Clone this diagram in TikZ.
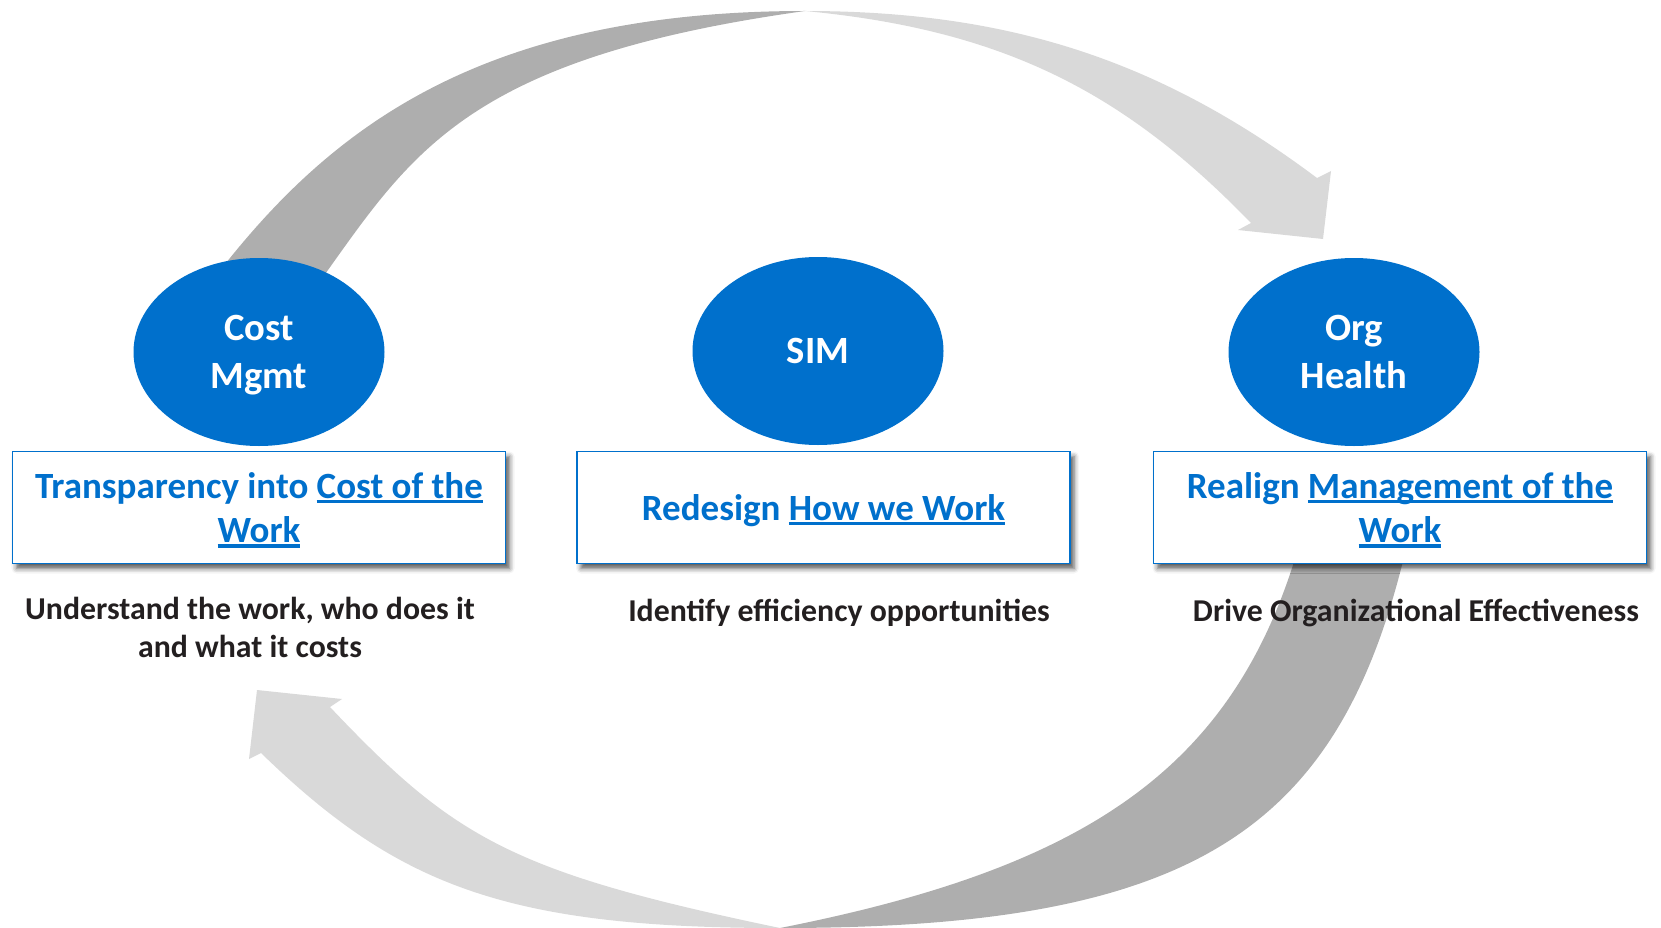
\documentclass[tikz,border=0pt]{standalone}
\usepackage{fontspec}
\setmainfont{Carlito}
\usetikzlibrary{shapes.geometric,shadows.blur}

\definecolor{stageblue}{RGB}{0,112,204}
\definecolor{arcdark}{RGB}{174,174,174}
\definecolor{arclight}{RGB}{217,217,217}
\definecolor{notetext}{RGB}{35,31,32}

% underline at a fixed depth, like a hyperlink
\newsavebox\lnkbox
\newcommand\lnk[1]{\sbox\lnkbox{#1}\rlap{\smash{\vrule height -0.045em depth 0.135em width \wd\lnkbox}}\usebox\lnkbox}

\begin{document}
\begin{tikzpicture}[x=1pt,y=-1pt]
    \tikzset{stage/.style={ellipse, fill=stageblue, text=white, inner sep=0pt,
        minimum width=251pt, minimum height=188pt, align=center, text depth=0pt,
        font=\bfseries\fontsize{38.6}{48}\selectfont}}
    \tikzset{goal/.style={draw=stageblue, line width=1.6pt, fill=white, text=stageblue,
        minimum width=493pt, minimum height=112pt, inner sep=0pt, align=center, text depth=0pt,
        font=\bfseries\fontsize{37}{44.5}\selectfont,
        blur shadow={shadow xshift=4pt, shadow yshift=-5pt, shadow blur radius=5pt, shadow opacity=65}}}
    \tikzset{note/.style={text=notetext, align=center, inner sep=0pt,
        font=\bfseries\fontsize{31.8}{38}\selectfont}}
    \useasboundingbox (0,0) rectangle (1661,928);
    % upper arc: back half, then front half with its head
    \fill[arcdark] (196,300) -- (230,258) .. controls (340,122) and (490,11) .. (805,11)
        .. controls (475,57) and (415,148) .. (328,270) -- (300,310) -- cycle;
    \fill[arclight] (805,11) .. controls (1005,11) and (1157,58) .. (1317,178)
        -- (1331,171) -- (1323,239) -- (1238,230) -- (1251,223)
        .. controls (1125,93) and (1005,30) .. (805,11) -- cycle;
    % lower arc
    \fill[arcdark] (1405,500) -- (1402,565) .. controls (1333,836) and (1185,928) .. (780,928)
        .. controls (1079,869) and (1225.5,774) .. (1293,565) -- (1300,500) -- cycle;
    \fill[arclight] (780,928) .. controls (505,928) and (397,885) .. (261,753)
        -- (249,759) -- (257,690) -- (342,699) -- (330,707)
        .. controls (454,838) and (511,872) .. (780,928) -- cycle;

    \node[stage] (cost) at (259,352) {Cost\\Mgmt};
    \node[stage] (sim) at (818,351) {SIM};
    \node[stage] (org) at (1354,352) {Org\\Health};

    \node[goal] (costgoal) at (259,507.5) {Transparency into \lnk{Cost of the}\\\lnk{Work}};
    \node[goal] (simgoal) at (823.5,507.5) {Redesign \lnk{How we Work}};
    \node[goal] (orggoal) at (1400,507.5) {Realign \lnk{Management of the}\\\lnk{Work}};

    \node[note] (costnote) at (250,627) {Understand the work, who does it\\and what it costs};
    \node[note] (simnote) at (839,613) {Identify efficiency opportunities};
    \node[note] (orgnote) at (1416,613) {Drive Organizational Effectiveness};
\end{tikzpicture}
\end{document}
